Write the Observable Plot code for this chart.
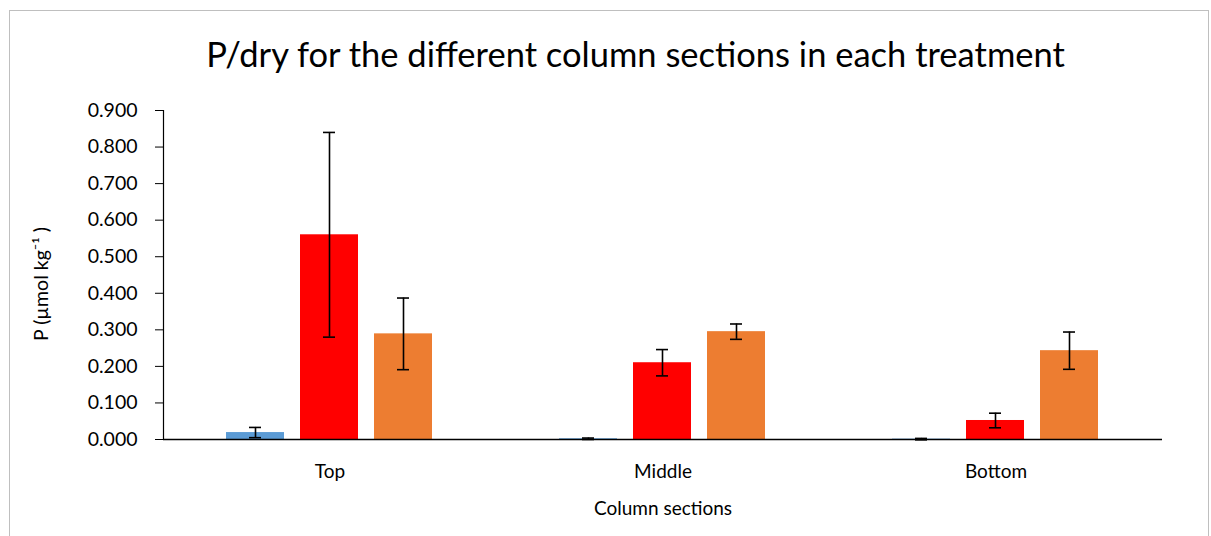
<!DOCTYPE html>
<html>
<head>
<meta charset="utf-8">
<script src="https://cdn.jsdelivr.net/npm/d3@7"></script>
<script src="https://cdn.jsdelivr.net/npm/@observablehq/plot@0.6"></script>
<style>
  html, body { margin: 0; padding: 0; background: #fff; }
  #chart {
    position: relative; width: 1211px; height: 536px; overflow: hidden;
    font-family: Lato, "Open Sans", sans-serif;
  }
  #frame {
    position: absolute; left: 9px; top: 10px; width: 1200px; height: 600px;
    border: 1px solid #bfbfbf; box-sizing: border-box;
  }
  #title {
    position: absolute; left: 0; top: 0; width: 1211px; height: 95px;
    text-align: center; font-size: 34.5px; line-height: 1; color: #000;
    padding-top: 37px; box-sizing: border-box; padding-left: 60px;
  }
  #plot { position: absolute; left: 0; top: 95px; }
</style>
</head>
<body>
<div id="chart">
  <div id="frame"></div>
  <div id="title">P/dry for the different column sections in each treatment</div>
  <div id="plot"></div>
</div>
<script>
// Column sections and treatments
const sections = ["Top", "Middle", "Bottom"];
const treatments = ["T1", "T2", "T3"];
const colors = ["#5B9BD5", "#FF0000", "#ED7D31"];

// Mean P per section (rows) and treatment (columns), µmol kg-1
const means = [
  [0.019, 0.560, 0.289],
  [0.002, 0.210, 0.295],
  [0.001, 0.052, 0.243]
];
// Error bar half-widths
const errors = [
  [0.014, 0.280, 0.098],
  [0.002, 0.036, 0.021],
  [0.002, 0.020, 0.051]
];
const yTicks = [0, 0.1, 0.2, 0.3, 0.4, 0.5, 0.6, 0.7, 0.8, 0.9];
const yLabel = "P (µmol kg⁻¹ )";

const rows = sections.flatMap((s, i) => treatments.map((t, j) => ({
  section: s, treatment: t, value: means[i][j], err: errors[i][j]
})));

const font = "Lato, 'Open Sans', sans-serif";

const chart = Plot.plot({
  width: 1211,
  height: 441,
  marginTop: 15,
  marginBottom: 97,
  marginLeft: 163,
  marginRight: 49,
  style: { fontFamily: font, fontSize: "19px", color: "#000" },
  fx: { domain: sections, padding: 0 },
  x: { domain: treatments, paddingInner: 0.216, paddingOuter: 0.858, axis: null },
  y: { domain: [0, 0.9] },
  color: { domain: treatments, range: colors },
  marks: [
    Plot.axisFx({ anchor: "bottom", tickSize: 0, tickPadding: 25, fontSize: 19,
                  label: "Column sections", labelAnchor: "center", labelOffset: 75,
                  labelArrow: "none" }),
    Plot.axisY({ ticks: yTicks, tickFormat: d3.format(".3f"), tickSize: 8, tickPadding: 18,
                 fontSize: 19.5, label: null }),
    // rotated y-axis title, drawn once beside the leftmost section
    Plot.text([yLabel], { text: d => d, frameAnchor: "left", facetAnchor: "left",
                          textAnchor: "middle", rotate: -90, dx: -122, dy: 9,
                          fontSize: 19.5, fill: "#000" }),
    Plot.frame({ anchor: "left", facetAnchor: "left", stroke: "#000", strokeWidth: 1.2 }),
    Plot.barY(rows, { fx: "section", x: "treatment", y: "value", fill: "treatment" }),
    Plot.ruleY([0], { stroke: "#000", strokeWidth: 1.5 }),
    Plot.ruleX(rows, { fx: "section", x: "treatment", y1: d => d.value - d.err,
                       y2: d => d.value + d.err, stroke: "#000", strokeWidth: 1.6 }),
    Plot.tickY(rows, { fx: "section", x: "treatment", y: d => d.value + d.err,
                       stroke: "#000", strokeWidth: 1.6, insetLeft: 23, insetRight: 23 }),
    Plot.tickY(rows, { fx: "section", x: "treatment", y: d => d.value - d.err,
                       stroke: "#000", strokeWidth: 1.6, insetLeft: 23, insetRight: 23 })
  ]
});
document.getElementById("plot").appendChild(chart);
</script>
</body>
</html>
